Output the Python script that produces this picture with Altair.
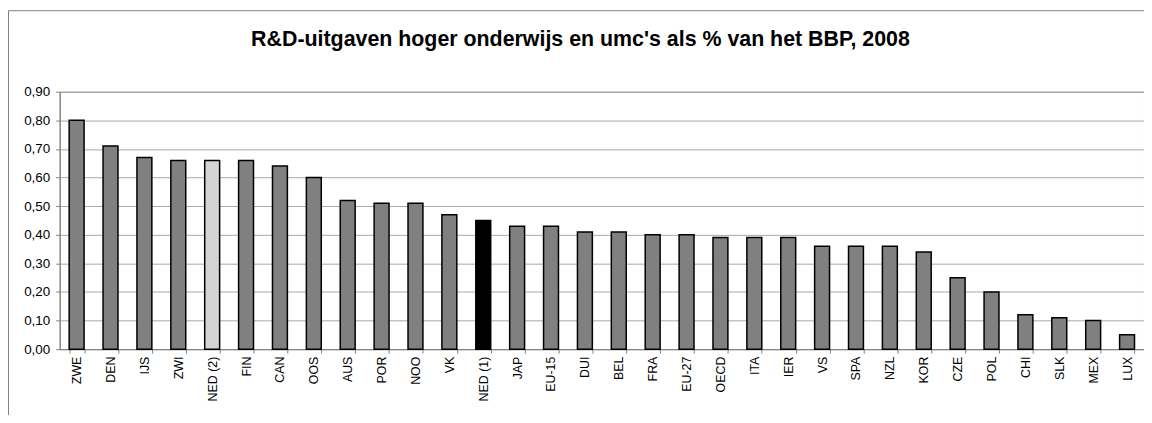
import altair as alt
import pandas as pd

categories = ["ZWE", "DEN", "IJS", "ZWI", "NED (2)", "FIN", "CAN", "OOS", "AUS", "POR",
              "NOO", "VK", "NED (1)", "JAP", "EU-15", "DUI", "BEL", "FRA", "EU-27", "OECD",
              "ITA", "IER", "VS", "SPA", "NZL", "KOR", "CZE", "POL", "CHI", "SLK", "MEX", "LUX"]
values = [0.80, 0.71, 0.67, 0.66, 0.66, 0.66, 0.64, 0.60, 0.52, 0.51,
          0.51, 0.47, 0.45, 0.43, 0.43, 0.41, 0.41, 0.40, 0.40, 0.39,
          0.39, 0.39, 0.36, 0.36, 0.36, 0.34, 0.25, 0.20, 0.12, 0.11, 0.10, 0.05]
highlight = {"NED (2)": "ned2", "NED (1)": "ned1"}
groups = [highlight.get(c, "other") for c in categories]

title_text = "R&D-uitgaven hoger onderwijs en umc's als % van het BBP, 2008"
y_ticks = [0.0, 0.1, 0.2, 0.3, 0.4, 0.5, 0.6, 0.7, 0.8, 0.9]

df = pd.DataFrame({"land": categories, "waarde": values, "groep": groups})

W, H = 1091, 259

bars = alt.Chart(df).mark_bar(stroke="black", strokeWidth=1.5).encode(
    x=alt.X("land:N", sort=categories,
            scale=alt.Scale(paddingInner=0.56, paddingOuter=0.28),
            axis=alt.Axis(title=None, labelAngle=-90, labelAlign="right", labelBaseline="middle",
                          labelPadding=3, tickSize=4, tickBand="extent", tickColor="#808080",
                          domainColor="#808080", labelFont="Liberation Sans", labelFontSize=12.5,
                          labelColor="black", grid=False)),
    y=alt.Y("waarde:Q", scale=alt.Scale(domain=[0, 0.9], nice=False),
            axis=alt.Axis(title=None, values=y_ticks,
                          labelExpr="replace(format(datum.value, '.2f'), '.', ',')",
                          tickSize=4, tickColor="#808080", domainColor="#808080",
                          labelPadding=6, labelFont="Liberation Sans", labelFontSize=13.5,
                          labelColor="black", grid=True, gridColor="#a8a8a8", gridWidth=1)),
    color=alt.Color("groep:N", legend=None,
                    scale=alt.Scale(domain=["other", "ned2", "ned1"],
                                    range=["#808080", "#d4d4d4", "#000000"])),
)

title_df = pd.DataFrame({"t": [title_text]})
title = alt.Chart(title_df).mark_text(font="Liberation Sans", fontSize=21.5, fontWeight="bold",
                                      color="black", align="center", baseline="middle").encode(
    text="t:N", x=alt.value(524), y=alt.value(-52))

frame_df = pd.DataFrame({"a": [0]})
frame_top = alt.Chart(frame_df).mark_rule(color="#808080", strokeWidth=1).encode(
    x=alt.value(-51.5), x2=alt.value(1092), y=alt.value(-81.5))
frame_left = alt.Chart(frame_df).mark_rule(color="#808080", strokeWidth=1).encode(
    x=alt.value(-51.5), y=alt.value(-81.5), y2=alt.value(335))

chart = alt.layer(bars, title, frame_top, frame_left).properties(
    width=W, height=H,
    autosize=alt.AutoSizeParams(type="none"),
    padding={"left": 52, "top": 83, "right": 0, "bottom": 65},
    background="white",
).configure_view(stroke="#808080", strokeWidth=1)

chart.save("out.html", embed_options={"renderer": "svg", "actions": False})
